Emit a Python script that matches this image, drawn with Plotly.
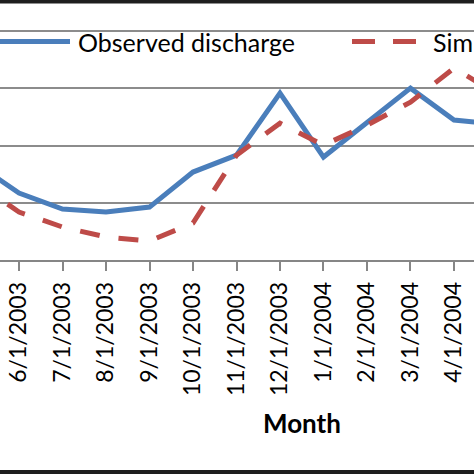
import plotly.graph_objects as go

months = ["5/1/2003", "6/1/2003", "7/1/2003", "8/1/2003", "9/1/2003", "10/1/2003",
          "11/1/2003", "12/1/2003", "1/1/2004", "2/1/2004", "3/1/2004", "4/1/2004", "5/1/2004"]
observed = [84.6, 58.5, 44.5, 41.9, 46.2, 76.8, 91.6, 145.7, 89.9, 119.5, 150.1, 122.2, 118.7]
simulated = [68.1, 41.9, 28.8, 20.1, 16.6, 32.3, 91.6, 119.5, 100.3, 117.8, 137.9, 167.5, 144.9]
series_names = ["Observed discharge", "Simulated discharge"]

W, H = 474, 474
PLOT_BOTTOM = 260  # px from top
BLUE = "#4A7EBB"
RED = "#BE4B48"
FONT = "Lato"

fig = go.Figure()
fig.add_trace(go.Scatter(x=months, y=observed, mode="lines", name=series_names[0],
                         line=dict(color=BLUE, width=5), showlegend=False))
fig.add_trace(go.Scatter(x=months, y=simulated, mode="lines", name=series_names[1],
                         line=dict(color=RED, width=5, dash="20px,19px"), showlegend=False))

def py(yp):
    return (PLOT_BOTTOM - yp) / PLOT_BOTTOM

def px(xp):
    return xp / W

shapes = [
    # frame bands (top and bottom)
    dict(type="rect", xref="paper", yref="paper", x0=-0.01, x1=1.01, y0=py(3.5), y1=py(-2),
         fillcolor="#1e1e1e", line=dict(width=0), layer="above"),
    dict(type="rect", xref="paper", yref="paper", x0=-0.01, x1=1.01, y0=py(476), y1=py(470),
         fillcolor="#1e1e1e", line=dict(width=0), layer="above"),
    # legend keys
    dict(type="line", xref="paper", yref="paper", x0=px(-5), x1=px(70), y0=py(41.5), y1=py(41.5),
         line=dict(color=BLUE, width=5)),
    dict(type="line", xref="paper", yref="paper", x0=px(352), x1=px(417), y0=py(41.5), y1=py(41.5),
         line=dict(color=RED, width=5, dash="23px,18px")),
]

annotations = [
    dict(text=series_names[0], xref="paper", yref="paper", x=px(76), y=py(41.5),
         xanchor="left", yanchor="middle", showarrow=False,
         font=dict(family=FONT, size=25, color="black")),
    dict(text=series_names[1], xref="paper", yref="paper", x=px(431), y=py(41.5),
         xanchor="left", yanchor="middle", showarrow=False,
         font=dict(family=FONT, size=25, color="black")),
    dict(text="<b>Month</b>", xref="paper", yref="paper", x=px(301.5), y=py(423),
         xanchor="center", yanchor="middle", showarrow=False,
         font=dict(family=FONT, size=26, color="black")),
]

fig.update_layout(
    width=W, height=H,
    margin=dict(l=0, r=0, t=0, b=H - PLOT_BOTTOM, pad=0),
    paper_bgcolor="white", plot_bgcolor="white",
    showlegend=False,
    shapes=shapes, annotations=annotations,
    xaxis=dict(type="category", range=[0.5632, 11.46], showgrid=False,
               showline=True, linecolor="#868686", linewidth=1.5,
               ticks="outside", ticklen=9, tickwidth=1.5, tickcolor="#868686",
               tickangle=-90, ticklabelstandoff=2,
               tickfont=dict(family=FONT, size=23, color="black"),
               automargin=False),
    yaxis=dict(range=[0, 227.07], dtick=50, showgrid=True, gridcolor="#8C8C8C", gridwidth=1.5,
               showticklabels=False, showline=False, zeroline=False, ticks="",
               automargin=False),
)

fig.write_html("out.html", config={"displayModeBar": False},
               post_script="document.body.style.margin='0';document.body.style.padding='0';")
